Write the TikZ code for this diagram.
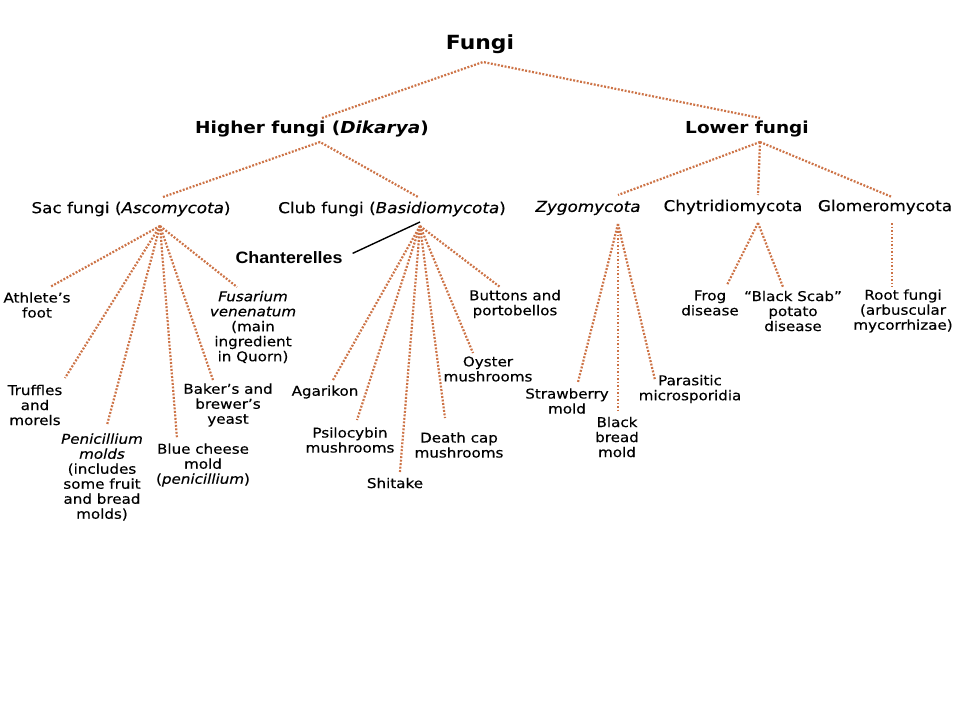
\documentclass[tikz,border=0pt]{standalone}
\usepackage{fontspec}
\setmainfont[FakeStretch=1.12,
  UprightFeatures={FakeBold=0.3}, ItalicFeatures={FakeBold=0.3}]{DejaVu Sans}
\newfontfamily\chfont[FakeStretch=1.08]{Liberation Sans}
\definecolor{dotc}{RGB}{205,115,70}
\begin{document}
\begin{tikzpicture}[x=1pt,y=-1pt,
  conn/.style={draw=dotc, line width=2.2pt, dash pattern=on 1.9pt off 1.6pt},
  ttl/.style={font=\fontsize{19.5}{22}\selectfont\bfseries, inner sep=0pt},
  grp/.style={font=\fontsize{16.5}{19}\selectfont\bfseries, inner sep=0pt},
  phy/.style={font=\fontsize{15}{17}\selectfont, inner sep=0pt},
  leaf/.style={font=\fontsize{13.5}{15}\selectfont, align=center, inner sep=0pt},
  lead/.style={draw=black, line width=1.4pt},
]
\useasboundingbox[fill=white] (0,0) rectangle (960,720);

% titles
\node[ttl] (fungi) at (480,44) {Fungi};
\node[grp] (higher) at (312,129) {Higher fungi (\textit{Dikarya})};
\node[grp] (lower) at (747,129) {Lower fungi};

% phyla
\node[phy] (sac) at (131,209) {Sac fungi (\textit{Ascomycota})};
\node[phy] (club) at (392,209) {Club fungi (\textit{Basidiomycota})};
\node[phy] (zygo) at (588,208) {\textit{Zygomycota}};
\node[phy] (chyt) at (733,207) {Chytridiomycota};
\node[phy] (glom) at (885,207) {Glomeromycota};

% leaves
\node[leaf] (athlete) at (37,305) {Athlete’s\\foot};
\node[leaf] (fusarium) at (253,327) {\textit{Fusarium}\\\textit{venenatum}\\(main\\ingredient\\in Quorn)};
\node[leaf] (truffles) at (35,405) {Truffles\\and\\morels};
\node[leaf] (penic) at (102,477) {\textit{Penicillium}\\\textit{molds}\\(includes\\some fruit\\and bread\\molds)};
\node[leaf] (blue) at (203,465) {Blue cheese\\mold\\(\textit{penicillium})};
\node[leaf] (baker) at (228,405) {Baker’s and\\brewer’s\\yeast};
\node[leaf] (agarikon) at (325,392) {Agarikon};
\node[leaf] (psilo) at (350,440) {Psilocybin\\mushrooms};
\node[leaf] (shitake) at (395,483) {Shitake};
\node[leaf] (death) at (459,445) {Death cap\\mushrooms};
\node[leaf] (oyster) at (488,369) {Oyster\\mushrooms};
\node[leaf] (buttons) at (515,304) {Buttons and\\portobellos};
\node[leaf] (straw) at (567,401) {Strawberry\\mold};
\node[leaf] (black) at (617,437) {Black\\bread\\mold};
\node[leaf] (parasitic) at (690,389) {Parasitic\\microsporidia};
\node[leaf] (frog) at (710,303) {Frog\\disease};
\node[leaf] (scab) at (793,311) {“Black Scab”\\potato\\disease};
\node[leaf] (root) at (903,311) {Root fungi\\(arbuscular\\mycorrhizae)};

\node[font=\chfont\fontsize{16.5}{19}\selectfont\bfseries, inner sep=0pt] (chant) at (289,258) {Chanterelles};

% hubs and connector ends
\coordinate (f0) at (483,62);
\coordinate (hiT) at (322,118);
\coordinate (loT) at (760,118);
\coordinate (h0) at (320,142);
\coordinate (sacT) at (163,197);
\coordinate (clubT) at (418,197);
\coordinate (l0) at (760,142);
\coordinate (zyT) at (618,195);
\coordinate (chT) at (758,195);
\coordinate (glT) at (892,197);

\coordinate (s0) at (160,226);
\coordinate (eAth) at (50,287);
\coordinate (eTru) at (65,378);
\coordinate (ePen) at (107,425);
\coordinate (eBlu) at (177,438);
\coordinate (eBak) at (213,380);
\coordinate (eFus) at (237,287);

\coordinate (c0) at (420,226);
\coordinate (eAga) at (333,380);
\coordinate (ePsi) at (357,420);
\coordinate (eShi) at (400,472);
\coordinate (eDea) at (445,418);
\coordinate (eOys) at (473,353);
\coordinate (eBut) at (500,287);
\coordinate (cTip) at (420,222);

\coordinate (z0) at (618,224);
\coordinate (eStr) at (578,382);
\coordinate (eBla) at (618,410);
\coordinate (ePar) at (655,380);

\coordinate (ch0) at (758,223);
\coordinate (eFro) at (727,285);
\coordinate (eSca) at (783,287);

\coordinate (g0) at (892,223);
\coordinate (eRoo) at (892,287);

% connectors
\draw[conn] (hiT) -- (f0) -- (loT);
\draw[conn] (sacT) -- (h0) -- (clubT);
\draw[conn] (l0) -- (zyT);
\draw[conn] (l0) -- (chT);
\draw[conn] (l0) -- (glT);

\foreach \e in {eAth,eTru,ePen,eBlu,eBak,eFus} \draw[conn] (s0) -- (\e);
\foreach \e in {eAga,ePsi,eShi,eDea,eOys,eBut} \draw[conn] (c0) -- (\e);
\foreach \e in {eStr,eBla,ePar} \draw[conn] (z0) -- (\e);
\foreach \e in {eFro,eSca} \draw[conn] (ch0) -- (\e);
\draw[conn] (g0) -- (eRoo);

\draw[lead, shorten <=11pt] (chant.east) -- (cTip);
\end{tikzpicture}
\end{document}
